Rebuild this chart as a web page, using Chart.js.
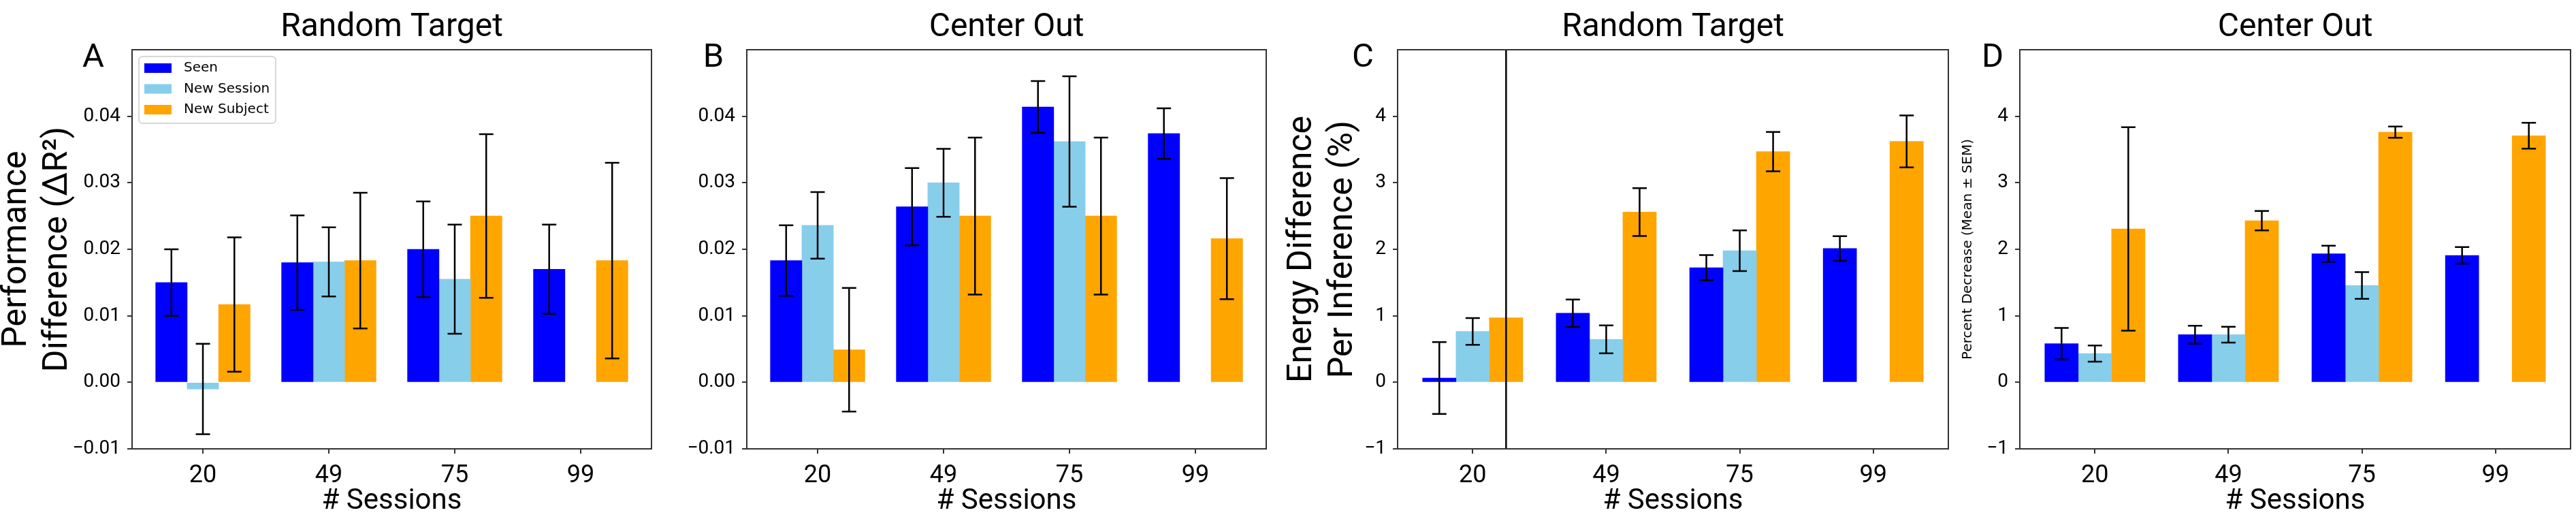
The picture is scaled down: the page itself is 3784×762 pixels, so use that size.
<!DOCTYPE html>
<html>
<head>
<meta charset="utf-8">
<script src="https://cdn.jsdelivr.net/npm/chart.js@4.4.1/dist/chart.umd.min.js"></script>
<style>
  html, body { margin: 0; padding: 0; background: #fff; }
  body { width: 3784px; height: 762px; position: relative; overflow: hidden; }
  canvas { position: absolute; top: 0; }
</style>
</head>
<body>
<canvas id="panelA"></canvas>
<canvas id="panelB"></canvas>
<canvas id="panelC"></canvas>
<canvas id="panelD"></canvas>
<script>
// Values: 4 panels x 3 series, mean + SEM per bar.
const sessions    = ['20', '49', '75', '99'];
const seriesNames = ['Seen', 'New Session', 'New Subject'];

const perfTicks   = [-0.01, 0, 0.01, 0.02, 0.03, 0.04];
const energyTicks = [-1, 0, 1, 2, 3, 4];

// A - performance, random target
const rtPerfSeen          = [0.0150, 0.0180, 0.0200, 0.0170];
const rtPerfSeenErr       = [0.0050, 0.0071, 0.0072, 0.0067];
const rtPerfNewSession    = [-0.0010, 0.0181, 0.0155, null];
const rtPerfNewSessionErr = [0.0068, 0.0052, 0.0082, null];
const rtPerfNewSubject    = [0.0117, 0.0183, 0.0250, 0.0183];
const rtPerfNewSubjectErr = [0.0101, 0.0102, 0.0123, 0.0147];

// B - performance, center out
const coPerfSeen          = [0.0183, 0.0264, 0.0414, 0.0374];
const coPerfSeenErr       = [0.0053, 0.0058, 0.0039, 0.0038];
const coPerfNewSession    = [0.0236, 0.0300, 0.0362, null];
const coPerfNewSessionErr = [0.0050, 0.0051, 0.0098, null];
const coPerfNewSubject    = [0.0049, 0.0250, 0.0250, 0.0216];
const coPerfNewSubjectErr = [0.0093, 0.0118, 0.0118, 0.0091];

// C - energy, random target (the 20-session New Subject bar runs off the axes)
const rtEnergySeen          = [0.065, 1.039, 1.724, 2.012];
const rtEnergySeenErr       = [0.54, 0.206, 0.19, 0.186];
const rtEnergyNewSession    = [0.765, 0.646, 1.978, null];
const rtEnergyNewSessionErr = [0.20, 0.21, 0.305, null];
const rtEnergyNewSubject    = [0.969, 2.559, 3.468, 3.622];
const rtEnergyNewSubjectErr = [4.5, 0.36, 0.295, 0.39];

// D - energy, center out
const coEnergySeen          = [0.581, 0.716, 1.933, 1.908];
const coEnergySeenErr       = [0.236, 0.135, 0.122, 0.124];
const coEnergyNewSession    = [0.432, 0.716, 1.456, null];
const coEnergyNewSessionErr = [0.122, 0.12, 0.2, null];
const coEnergyNewSubject    = [2.306, 2.430, 3.761, 3.707];
const coEnergyNewSubjectErr = [1.53, 0.147, 0.085, 0.194];

const SERIES_COLORS = ['#0000ff', '#87ceeb', '#ffa500'];
const BAR_OFFSETS   = [-0.25, 0, 0.25];
const FONT   = 'Roboto, "Liberation Sans", sans-serif';
const DEJAVU = '"DejaVu Sans", sans-serif';
const AXIS_COLOR = '#333';
const CAP = 10.5;

function fmtPerf(v)   { return (v < 0 ? '\u2212' : '') + Math.abs(v).toFixed(2); }
function fmtEnergy(v) { return (v < 0 ? '\u2212' : '') + Math.abs(v); }

function buildDatasets(values, errors) {
    return values.map((vals, s) => ({
        label: seriesNames[s],
        backgroundColor: SERIES_COLORS[s],
        borderWidth: 0,
        grouped: false,
        barPercentage: 1,
        categoryPercentage: 1,
        data: vals
            .map((v, i) => v === null ? null : { x: i + BAR_OFFSETS[s], y: v, err: errors[s][i] })
            .filter(p => p)
    }));
}

// error bars, clipped to the plot box
const errorBarPlugin = {
    id: 'errorBars',
    afterDatasetsDraw(chart) {
        const { ctx, chartArea: a, scales: { y } } = chart;
        ctx.save();
        ctx.beginPath();
        ctx.rect(a.left, a.top, a.right - a.left, a.bottom - a.top);
        ctx.clip();
        ctx.strokeStyle = '#000';
        ctx.lineWidth = 2.5;
        chart.data.datasets.forEach((ds, di) => {
            chart.getDatasetMeta(di).data.forEach((bar, j) => {
                const p = ds.data[j];
                const top = y.getPixelForValue(p.y + p.err);
                const bot = y.getPixelForValue(p.y - p.err);
                ctx.beginPath();
                ctx.moveTo(bar.x, top);       ctx.lineTo(bar.x, bot);
                ctx.moveTo(bar.x - CAP, top); ctx.lineTo(bar.x + CAP, top);
                ctx.moveTo(bar.x - CAP, bot); ctx.lineTo(bar.x + CAP, bot);
                ctx.stroke();
            });
        });
        ctx.restore();
    }
};

// frame on all four sides, panel letter, and the boxed legend of panel A
const decorPlugin = {
    id: 'decor',
    afterDraw(chart, args, opts) {
        const { ctx, chartArea: a } = chart;
        ctx.save();
        ctx.strokeStyle = AXIS_COLOR;
        ctx.lineWidth = 2;
        ctx.strokeRect(a.left, a.top, a.right - a.left, a.bottom - a.top);

        ctx.fillStyle = '#000';
        ctx.font = '49px ' + FONT;
        ctx.textAlign = 'center';
        ctx.textBaseline = 'alphabetic';
        ctx.fillText(opts.letter, a.left + opts.letterDx, 98);

        if (opts.legend) {
            const bx = a.left + 10, by = a.top + 10;
            ctx.fillStyle = 'rgba(255,255,255,0.8)';
            ctx.strokeStyle = '#cccccc';
            ctx.lineWidth = 1.5;
            ctx.beginPath();
            ctx.roundRect(bx, by, 201, 98, 5);
            ctx.fill();
            ctx.stroke();
            ctx.font = '20px ' + DEJAVU;
            ctx.textAlign = 'left';
            ctx.textBaseline = 'middle';
            seriesNames.forEach((name, i) => {
                const cy = by + 17 + i * 30.5;
                ctx.fillStyle = SERIES_COLORS[i];
                ctx.fillRect(bx + 8, cy - 7, 40, 14);
                ctx.fillStyle = '#000';
                ctx.fillText(name, bx + 66, cy);
            });
        }
        ctx.restore();
    }
};

function makePanel(p) {
    const canvas = document.getElementById(p.id);
    canvas.style.left = p.left + 'px';
    canvas.width = p.plotRight + 3 - p.left;
    canvas.height = 762;

    return new Chart(canvas.getContext('2d'), {
        type: 'bar',
        data: { datasets: buildDatasets(p.values, p.errors) },
        plugins: [errorBarPlugin, decorPlugin],
        options: {
            responsive: false,
            animation: false,
            devicePixelRatio: 1,
            layout: { padding: { left: 0, right: 3, top: 0, bottom: 0 } },
            plugins: {
                legend: { display: false },
                tooltip: { enabled: false },
                title: {
                    display: true, text: p.title, fullSize: false, color: '#000',
                    font: { family: FONT, size: 48, weight: 'normal' },
                    padding: { top: 12, bottom: 3.4 }
                },
                decor: { letter: p.letter, letterDx: p.letterDx, legend: !!p.legend }
            },
            scales: {
                x: {
                    // bar charts default to offset:true, which shifts a linear axis
                    type: 'linear', min: -0.5625, max: 3.5625, bounds: 'data', offset: false,
                    afterBuildTicks: s => { s.ticks = sessions.map((_, i) => ({ value: i })); },
                    afterFit: s => { s.height = 103; },
                    ticks: {
                        callback: v => sessions[v], color: '#000', padding: 11,
                        maxRotation: 0, autoSkip: false,
                        font: { family: FONT, size: 36 }
                    },
                    grid: { offset: false, drawOnChartArea: false, drawTicks: true, tickLength: 7, color: AXIS_COLOR, lineWidth: 2 },
                    border: { display: false },
                    title: {
                        display: true, text: '# Sessions', color: '#000',
                        font: { family: FONT, size: 42 }, padding: 0
                    }
                },
                y: {
                    min: p.yMin, max: p.yMax,
                    afterBuildTicks: s => { s.ticks = p.yTicks.map(v => ({ value: v })); },
                    afterFit: s => { s.width = p.plotLeft - p.left; },
                    ticks: {
                        callback: p.fmt, color: '#000', padding: 10,
                        font: { family: FONT, size: 28 }
                    },
                    grid: { drawOnChartArea: false, drawTicks: true, tickLength: 7, color: AXIS_COLOR, lineWidth: 2 },
                    border: { display: false },
                    title: {
                        display: !!p.yLabel, text: p.yLabel || '', color: '#000',
                        font: p.yLabelFont || { family: FONT, size: 50 }, padding: 0
                    }
                }
            }
        }
    });
}

makePanel({
    id: 'panelA', left: -5, plotLeft: 194, plotRight: 957,
    title: 'Random Target', letter: 'A', letterDx: -57, legend: true,
    yLabel: ['Performance', 'Difference (\u0394R\u00b2)'],
    yMin: -0.01, yMax: 0.05, yTicks: perfTicks, fmt: fmtPerf,
    values: [rtPerfSeen, rtPerfNewSession, rtPerfNewSubject],
    errors: [rtPerfSeenErr, rtPerfNewSessionErr, rtPerfNewSubjectErr]
});

makePanel({
    id: 'panelB', left: 1000, plotLeft: 1097, plotRight: 1860,
    title: 'Center Out', letter: 'B', letterDx: -49,
    yMin: -0.01, yMax: 0.05, yTicks: perfTicks, fmt: fmtPerf,
    values: [coPerfSeen, coPerfNewSession, coPerfNewSubject],
    errors: [coPerfSeenErr, coPerfNewSessionErr, coPerfNewSubjectErr]
});

makePanel({
    id: 'panelC', left: 1883, plotLeft: 2053, plotRight: 2862,
    title: 'Random Target', letter: 'C', letterDx: -51,
    yLabel: ['Energy Difference', 'Per Inference (%)'],
    yMin: -1, yMax: 5, yTicks: energyTicks, fmt: fmtEnergy,
    values: [rtEnergySeen, rtEnergyNewSession, rtEnergyNewSubject],
    errors: [rtEnergySeenErr, rtEnergyNewSessionErr, rtEnergyNewSubjectErr]
});

makePanel({
    id: 'panelD', left: 2879, plotLeft: 2967, plotRight: 3776,
    title: 'Center Out', letter: 'D', letterDx: -40,
    yLabel: 'Percent Decrease (Mean \u00b1 SEM)',
    yLabelFont: { family: DEJAVU, size: 20 },
    yMin: -1, yMax: 5, yTicks: energyTicks, fmt: fmtEnergy,
    values: [coEnergySeen, coEnergyNewSession, coEnergyNewSubject],
    errors: [coEnergySeenErr, coEnergyNewSessionErr, coEnergyNewSubjectErr]
});
</script>
</body>
</html>
